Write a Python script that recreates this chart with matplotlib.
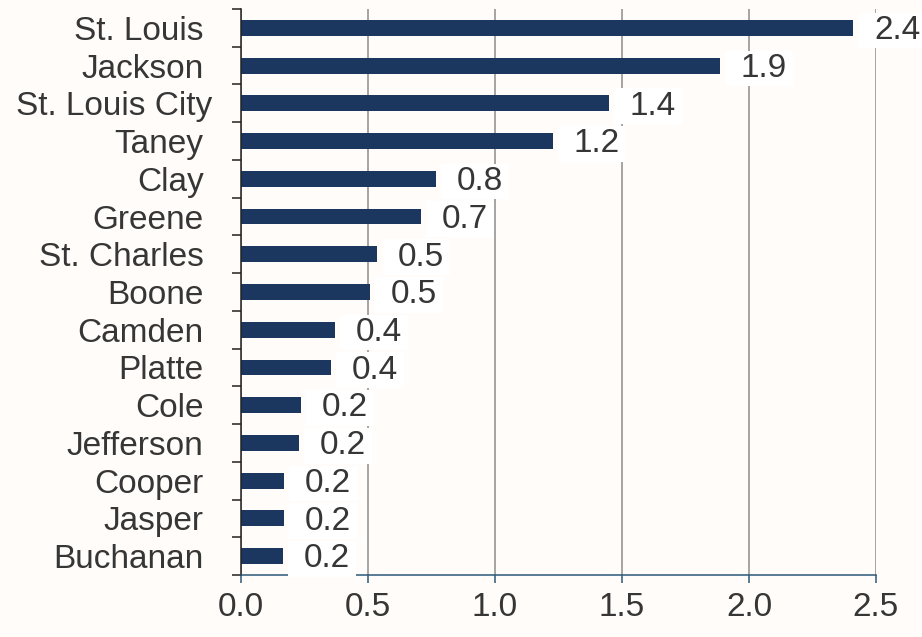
import numpy as np
import matplotlib.pyplot as plt
from matplotlib.path import Path
from matplotlib.ticker import FixedLocator
from matplotlib.transforms import ScaledTranslation

# -- county values (top to bottom as shown)
counties = ["St. Louis", "Jackson", "St. Louis City", "Taney", "Clay", "Greene",
            "St. Charles", "Boone", "Camden", "Platte", "Cole", "Jefferson",
            "Cooper", "Jasper", "Buchanan"]
values = [2.41, 1.886, 1.449, 1.228, 0.769, 0.710, 0.537, 0.509, 0.371, 0.355,
          0.236, 0.228, 0.169, 0.169, 0.165]
xticks = [0.0, 0.5, 1.0, 1.5, 2.0, 2.5]

bg = "#fffcf9"
bar_col = "#1b375f"
txt_col = "#363636"
axis_blue = "#2b5878"
fs = 24

plt.rcParams['font.family'] = ['Liberation Sans', 'DejaVu Sans']


# -- white label box, wider on the left than on the right
def label_box(x0, y0, width, height, mutation_size):
    pl, pr, pv = 0.47 * mutation_size, 0.17 * mutation_size, 0.07 * mutation_size
    xa, xb = x0 - pl, x0 + width + pr
    ya, yb = y0 - pv, y0 + height + pv
    return Path([(xa, ya), (xb, ya), (xb, yb), (xa, yb), (xa, ya)], closed=True)


fig = plt.figure(figsize=(9.22, 6.37), dpi=100, facecolor=bg)
ax = fig.add_axes([241 / 922, 1 - 575 / 637, 635 / 922, 566 / 637])
ax.set_facecolor(bg)

ypos = np.arange(len(counties))
ax.barh(ypos, values, height=0.42, color=bar_col, zorder=2)

for yy, vv in zip(ypos, values):
    ax.annotate("%.1f" % vv, xy=(vv, yy), xytext=(15, -2),
                textcoords="offset points", ha="left", va="center",
                fontsize=fs, color=txt_col, zorder=3, annotation_clip=False,
                bbox=dict(boxstyle=label_box, fc="white", ec="none"))

ax.set_xlim(0, 2.5)
ax.set_ylim(len(counties) - 0.5, -0.5)

ax.set_xticks(xticks)
ax.set_xticklabels(["%.1f" % t for t in xticks])
ax.set_yticks(ypos)
ax.set_yticklabels(counties)
ax.yaxis.set_minor_locator(FixedLocator(np.arange(-0.5, len(counties), 1.0)))

ax.tick_params(axis="y", which="major", length=0, pad=27, labelsize=fs,
               labelcolor=txt_col)
ax.tick_params(axis="y", which="minor", length=6.5, width=1.1, color="#222222",
               direction="out")
ax.tick_params(axis="x", which="major", length=6, width=1.1, color=axis_blue,
               direction="out", pad=6, labelsize=fs, labelcolor=txt_col)

# the long label sits a little further right, as in the original
lab = ax.get_yticklabels()[counties.index("St. Louis City")]
lab.set_transform(lab.get_transform() + ScaledTranslation(0.09, 0, fig.dpi_scale_trans))

ax.grid(axis="x", color="#8c8c8c", linewidth=1.1, zorder=0)
ax.set_axisbelow(True)

for side in ["top", "right"]:
    ax.spines[side].set_visible(False)
ax.spines["left"].set_color("#222222")
ax.spines["left"].set_linewidth(1.1)
ax.spines["bottom"].set_color(axis_blue)
ax.spines["bottom"].set_linewidth(1.1)

fig.savefig("out.png", dpi=100, facecolor=bg)
